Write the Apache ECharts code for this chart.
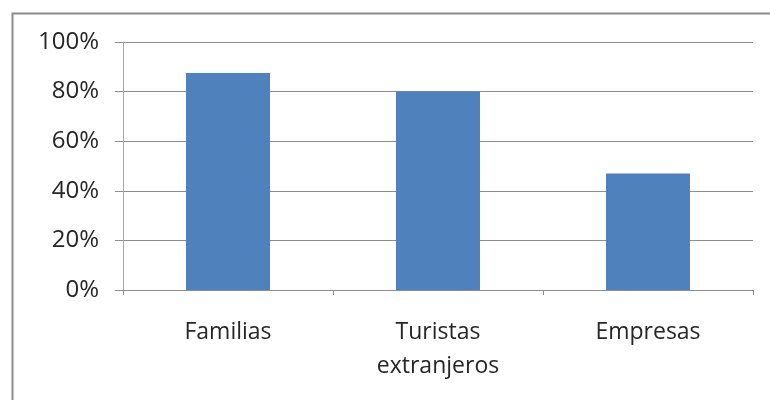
<!DOCTYPE html>
<html>
<head>
<meta charset="utf-8">
<script src="https://cdn.jsdelivr.net/npm/echarts@6/dist/echarts.min.js"></script>
<style>
  html, body { margin: 0; padding: 0; background: #fff; }
  #chart { width: 770px; height: 400px; }
</style>
</head>
<body>
<div id="chart"></div>
<script>
// Category names and shares (percent)
const categories = ['Familias', 'Turistas\nextranjeros', 'Empresas'];
const shares = [87.5, 80, 47];
const yTicks = [0, 20, 40, 60, 80, 100];

const FONT = '"Open Sans", "Noto Sans", sans-serif';
const TEXT = '#262626';

const chart = echarts.init(document.getElementById('chart'), null, { renderer: 'canvas' });

chart.setOption({
  animation: false,
  backgroundColor: '#ffffff',
  graphic: [{
    type: 'rect',
    left: 10, top: 11,
    shape: { width: 780, height: 420 },
    style: { fill: 'none', stroke: '#8c8c8c', lineWidth: 2 },
    silent: true
  }],
  grid: { left: 123, right: 17, top: 42, bottom: 110, containLabel: false },
  xAxis: {
    type: 'category',
    data: categories,
    axisLine: { show: true, lineStyle: { color: '#8c8c8c', width: 1 } },
    axisTick: { show: true, length: 5, alignWithLabel: false, lineStyle: { color: '#8c8c8c' } },
    axisLabel: {
      color: TEXT, fontFamily: FONT, fontSize: 23, margin: 25, lineHeight: 34, interval: 0
    }
  },
  yAxis: {
    type: 'value',
    min: yTicks[0], max: yTicks[yTicks.length - 1], interval: 20,
    axisLine: { show: true, lineStyle: { color: '#a6a6a6', width: 1 } },
    axisTick: { show: true, length: 8, lineStyle: { color: '#8c8c8c' } },
    splitLine: { show: true, lineStyle: { color: '#8c8c8c', width: 1 } },
    axisLabel: {
      color: TEXT, fontFamily: FONT, fontSize: 24, margin: 24,
      formatter: '{value}%'
    }
  },
  series: [{
    type: 'bar',
    data: shares,
    barWidth: '40%',
    itemStyle: { color: '#4f81bd' }
  }]
});
</script>
</body>
</html>
